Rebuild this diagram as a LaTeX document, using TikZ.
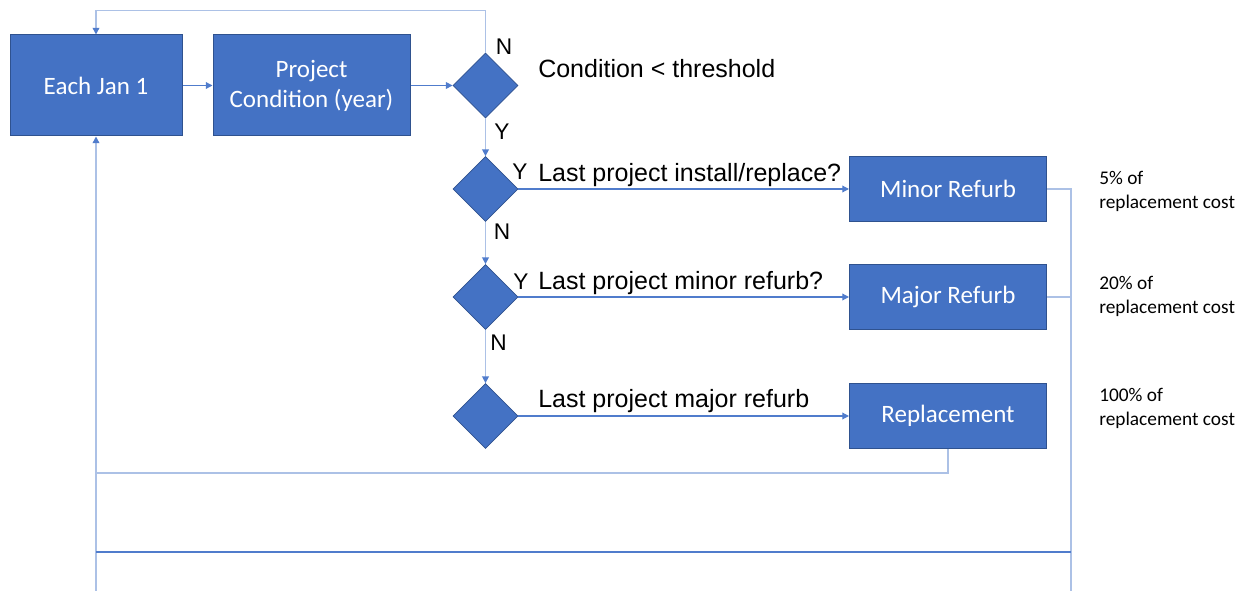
\documentclass[tikz,border=0pt]{standalone}
\usepackage{fontspec}
\setmainfont{Liberation Sans}
\newfontfamily\calibrifont{Carlito}
\usetikzlibrary{shapes.geometric,arrows.meta}

\definecolor{boxblue}{RGB}{68,114,196}
\definecolor{boxedge}{RGB}{47,82,143}
\definecolor{linemid}{RGB}{80,124,204}
\definecolor{linepale}{RGB}{172,193,230}

\tikzset{
  procbox/.style={draw=boxedge,fill=boxblue,line width=0.75pt,text=white,
    font=\calibrifont\fontsize{18.75}{22.5}\selectfont,align=center,inner sep=0pt},
  decide/.style={diamond,draw=boxedge,fill=boxblue,line width=0.6pt,
    minimum size=48.75pt,inner sep=0pt},
  flow/.style={draw=linemid,line width=0.9pt,-{Triangle[length=5pt,width=5pt]}},
  back/.style={draw=linepale,line width=1.1pt},
  backtip/.style={-{Triangle[length=5pt,width=5pt,color=linemid]}},
  yn/.style={font=\fontsize{17}{20}\selectfont,inner sep=0pt},
  ask/.style={font=\fontsize{18.75}{22.5}\selectfont,inner sep=0pt,anchor=base west},
  cost/.style={font=\calibrifont\fontsize{14.5}{18}\selectfont,align=left,inner sep=0pt,anchor=west}
}

\begin{document}
\begin{tikzpicture}[x=0.75pt,y=0.75pt,yscale=-1,xscale=1]
\useasboundingbox (0,0) rectangle (1250,591);

%Shape: Rectangle [start]
\node[procbox,minimum width=129pt,minimum height=75.75pt] (jan) at (96,85.5) {Each Jan 1};
%Shape: Rectangle [condition]
\node[procbox,minimum width=147.75pt,minimum height=75.75pt] (proj) at (311.5,85.5) {Project\\Condition (year)};

%Shape: Diamond [decisions]
\node[decide] (dcond) at (485.5,85.5) {};
\node[decide] (dinst) at (485.5,189) {};
\node[decide] (dminr) at (485.5,297) {};
\node[decide] (dmajr) at (485.5,416) {};

%Shape: Rectangle [actions]
\node[procbox,minimum width=147.75pt,minimum height=48.75pt] (minor) at (948,189) {Minor Refurb};
\node[procbox,minimum width=147.75pt,minimum height=48.75pt] (major) at (948,297) {Major Refurb};
\node[procbox,minimum width=147.75pt,minimum height=48.75pt] (repl) at (948,416) {Replacement};

%Straight Lines [main flow]
\draw[flow] (jan) -- (proj);
\draw[flow] (proj) -- (dcond);
\draw[flow] (dinst.east) -- (minor.west);
\draw[flow] (dminr.east) -- (major.west);
\draw[flow] (dmajr.east) -- (repl.west);

%Straight Lines [down the decisions]
\draw[back,backtip] (dcond.south) -- (dinst.north);
\draw[back,backtip] (dinst.south) -- (dminr.north);
\draw[back,backtip] (dminr.south) -- (dmajr.north);

%Straight Lines [loop back on N]
\coordinate (topR) at (485.5,10.5);
\coordinate (topL) at (96,10.5);
\draw[back,backtip] (dcond.north) -- (topR) -- (topL) -- (jan.north);

%Straight Lines [loop back from the actions]
\coordinate (leftB) at (96,591);
\coordinate (replB) at (96,473);
\coordinate (rightB) at (1071,591);
\coordinate (sumL) at (96,552);
\coordinate (sumR) at (1071,552);
\draw[back,backtip] (leftB) -- (jan.south);
\draw[back] (repl.south) |- (replB);
\draw[back] (minor.east) -| (rightB);
\draw[back] (major.east) -- (major.east -| rightB);
\draw[draw=linemid,line width=0.9pt] (sumL) -- (sumR);

% Text Node
\node[yn] (n1) at (504,47) {N};
\node[yn] (y1) at (502,132) {Y};
\node[yn] (y2) at (520,171.5) {Y};
\node[yn] (n2) at (502,231.5) {N};
\node[yn] (y3) at (521,281.5) {Y};
\node[yn] (n3) at (498.5,343) {N};

% Text Node
\node[ask] (qcond) at (538,78) {Condition < threshold};
\node[ask] (qinst) at (538,181.5) {Last project install/replace?};
\node[ask] (qminr) at (538,290) {Last project minor refurb?};
\node[ask] (qmajr) at (538,408) {Last project major refurb};

% Text Node
\node[cost] (cminor) at (1099,191.5) {5\% of\\replacement cost};
\node[cost] (cmajor) at (1099,296) {20\% of\\replacement cost};
\node[cost] (crepl) at (1099,408) {100\% of\\replacement cost};
\end{tikzpicture}
\end{document}
